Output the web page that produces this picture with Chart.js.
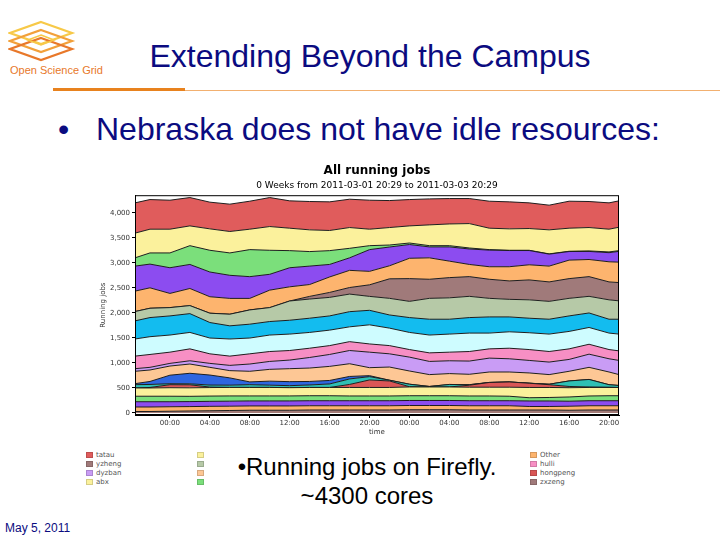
<!DOCTYPE html>
<html>
<head>
<meta charset="utf-8">
<script src="https://cdn.jsdelivr.net/npm/chart.js@4.4.1/dist/chart.umd.min.js"></script>
<style>
  html, body { margin: 0; padding: 0; background: #fff; }
  body { width: 720px; height: 540px; position: relative; overflow: hidden; font-family: "Liberation Sans", Arial, sans-serif; }
  .abs { position: absolute; white-space: nowrap; }
  #logoText { left: 10px; top: 64px; font-size: 11px; color: #e8782a; }
  #slideTitle { left: 0; width: 740px; text-align: center; top: 38px; font-size: 32px; color: #0b0b80; }
  #ruleThick { left: 53px; top: 88px; width: 132px; height: 3px; background: #e8821e; }
  #ruleThin { left: 185px; top: 90px; width: 535px; height: 1px; background: #f2b070; }
  #bulletDot { left: 58px; top: 111px; font-size: 32px; color: #0b0b80; }
  #bullet { left: 96px; top: 111px; font-size: 32px; color: #0b0b80; }
  #chartBox { left: 90px; top: 158px; width: 540px; height: 285px; }
  #note1 { left: 0; width: 734px; text-align: center; top: 453px; font-size: 24px; color: #000; }
  #note2 { left: 0; width: 734px; text-align: center; top: 482px; font-size: 24px; color: #000; }
  #footer { left: 5px; top: 521px; font-size: 12px; color: #0b0b80; }
  .lg { position: absolute; font-family: "DejaVu Sans", sans-serif; font-size: 7px; color: #555; height: 9px; line-height: 9px; white-space: nowrap; }
  .lg i { display: inline-block; width: 7px; height: 6px; margin-right: 3px; vertical-align: -1px; border: 1px solid rgba(0,0,0,0.15); box-sizing: border-box; }
</style>
</head>
<body>

<svg class="abs" style="left:8px;top:20px" width="70" height="44" viewBox="0 0 70 44">
  <polygon points="33,2 64,13 33,24 2,13" fill="none" stroke="#f7c948" stroke-width="2.2"/>
  <polygon points="33,10 64,21 33,32 2,21" fill="none" stroke="#f2a03a" stroke-width="2.2"/>
  <polygon points="33,18 64,29 33,40 2,29" fill="none" stroke="#e8782a" stroke-width="2.2"/>
  <polygon points="33,15 46,20 33,25 20,20" fill="none" stroke="#f7c948" stroke-width="1.6"/>
</svg>
<div id="logoText" class="abs">Open Science Grid</div>
<div id="slideTitle" class="abs">Extending Beyond the Campus</div>
<div id="ruleThick" class="abs"></div>
<div id="ruleThin" class="abs"></div>
<div id="bulletDot" class="abs">•</div>
<div id="bullet" class="abs">Nebraska does not have idle resources:</div>

<div id="chartBox" class="abs"><canvas id="jobsChart" width="540" height="285"></canvas></div>
<div id="legend"></div>

<div id="note1" class="abs">•Running jobs on Firefly.</div>
<div id="note2" class="abs">~4300 cores</div>
<div id="footer" class="abs">May 5, 2011</div>

<script>
// hours after 2011-03-02 00:00
const hours = [-3.5, -2, 0, 2, 4, 6, 8, 10, 12, 14, 16, 18, 20, 22, 24, 26, 28, 30, 32, 34, 36, 38, 40, 42, 44, 45];
const tickHours = [0, 4, 8, 12, 16, 20, 24, 28, 32, 36, 40, 44];
const tickLabels = ['00:00', '04:00', '08:00', '12:00', '16:00', '20:00', '00:00', '04:00', '08:00', '12:00', '16:00', '20:00'];
const yTicks = [0, 500, 1000, 1500, 2000, 2500, 3000, 3500, 4000];

// running jobs per user, bottom of the stack first
const baseBrown  = [30,30,35,40,45,50,55,55,55,60, 60,60,60,60,65,65,65,60,60,60, 60,60,55,60,60,60];
const baseOrange = [90,90,90,88,88,86,86,86,86,85, 85,85,85,85,85,85,85,85,85,85, 70,70,80,85,85,85];
const basePurple = [105,105,100,100,100,100,100,100,100,100, 100,100,100,100,100,100,100,100,100,100, 110,110,100,100,100,100];
const baseGreen  = [110,110,110,105,105,105,100,100,100,100, 100,95,95,95,95,95,95,95,95,90, 65,70,85,95,100,100];
const baseYellow = [165,165,170,170,170,170,170,170,165,165, 165,170,170,170,175,175,175,175,175,180, 205,200,185,170,165,165];
const smallRed   = [0,10,60,60,10,0,0,0,0,0, 0,60,150,130,5,0,0,40,95,105, 85,55,25,10,5,0];
const teal       = [66,60,20,20,40,45,55,45,40,50, 70,110,66,15,50,10,50,10,0,0, 0,10,110,150,50,40];
const blue       = [20,60,170,210,200,145,55,80,80,70, 70,50,20,0,0,0,0,0,0,0, 0,0,0,0,0,0];
const peach      = [247,229,183,185,154,145,212,236,259,268, 281,254,159,263,264,237,217,208,209,199, 205,192,193,242,254,217];
const lavender   = [52,53,53,65,79,105,145,158,172,211, 238,264,310,264,277,263,256,264,277,264, 250,250,237,263,264,283];
const pink       = [251,257,224,238,191,185,204,198,191,185, 177,177,164,164,151,171,172,191,185,211, 217,211,211,198,184,191];
const lightCyan  = [342,355,342,328,315,342,315,329,328,315, 309,296,382,349,342,356,361,368,315,328, 336,348,348,335,329,335];
const skyBlue    = [362,382,382,376,310,263,277,270,277,284, 284,303,290,263,297,316,297,310,323,297, 290,297,310,290,277,297];
const sage       = [186,186,166,160,186,232,285,278,384,383, 370,351,278,332,324,417,427,424,371,351, 367,357,351,332,387,367];
const rosyBrown  = [0,0,0,0,0,0,0,0,0,53, 99,131,231,390,454,381,404,394,381,368, 398,388,394,394,358,365];
const orange     = [408,408,283,342,329,316,230,349,283,237, 309,343,269,260,406,428,329,243,250,283, 302,316,369,342,402,408];
const violet     = [500,474,513,480,494,461,434,316,381,368, 250,250,434,375,275,218,284,309,332,324, 285,239,172,161,182,215];
const green      = [165,223,296,375,434,447,540,480,342,290, 276,190,79,40,30,25,25,20,10,5, 5,5,5,10,15,15];
const yellow     = [493,474,474,395,428,428,408,474,448,434, 402,415,329,349,342,415,434,487,428,428, 434,480,461,467,454,467];
const topRed     = [605,592,579,566,533,546,559,579,546,566, 572,566,579,539,526,519,507,500,539,539, 513,493,539,520,526,527];

const legendLabels = ['tatau', 'yzheng', 'dyzban', 'abx', '', '', '', '', 'Other', 'hulli', 'hongpeng', 'zxzeng'];

const layers = [
  { data: baseBrown,  color: '#a37c78' },
  { data: baseOrange, color: '#fdb46e' },
  { data: basePurple, color: '#8c4cf0' },
  { data: baseGreen,  color: '#7bdf7b' },
  { data: baseYellow, color: '#fbf19c' },
  { data: smallRed,   color: '#d95656' },
  { data: teal,       color: '#2fbfb4' },
  { data: blue,       color: '#2f66e0' },
  { data: peach,      color: '#fdc795' },
  { data: lavender,   color: '#c99cf5' },
  { data: pink,       color: '#f78fc4' },
  { data: lightCyan,  color: '#cefcff' },
  { data: skyBlue,    color: '#13bcef' },
  { data: sage,       color: '#b6c9a7' },
  { data: rosyBrown,  color: '#a07a7a' },
  { data: orange,     color: '#fdb46e' },
  { data: violet,     color: '#8c4cf0' },
  { data: green,      color: '#7bdf7b' },
  { data: yellow,     color: '#fbf19c' },
  { data: topRed,     color: '#e05c5c' }
];
const legendColors = ['#e05c5c', '#a07a7a', '#c99cf5', '#fbf19c', '#fbf19c', '#b6c9a7', '#fdc795', '#7bdf7b', '#fdb46e', '#f78fc4', '#d95656', '#a07a7a'];

// legend columns under the chart
const legendSlots = [[86, 455], [86, 464], [86, 473], [86, 482], [197, 455], [197, 464], [197, 473], [197, 482], [530, 455], [530, 464], [530, 473], [530, 482]];
const legendEl = document.getElementById('legend');
legendLabels.forEach((name, i) => {
  const d = document.createElement('div');
  d.className = 'lg';
  d.style.left = legendSlots[i][0] + 'px';
  d.style.top = (legendSlots[i][1] - 4) + 'px';
  d.innerHTML = `<i style="background:${legendColors[i]}"></i>${name}`;
  legendEl.appendChild(d);
});

const framePlugin = {
  id: 'frame',
  afterDatasetsDraw(chart) {
    const a = chart.chartArea, c = chart.ctx;
    c.save();
    c.strokeStyle = '#000';
    c.lineWidth = 1;
    c.strokeRect(a.left + 0.5, a.top + 0.5, a.right - a.left - 1, a.bottom - a.top - 1);
    c.restore();
  }
};

const tickFont = { family: 'DejaVu Sans', size: 7 };

new Chart(document.getElementById('jobsChart'), {
  type: 'line',
  data: {
    datasets: layers.map((l, i) => ({
      label: 'layer' + i,
      data: hours.map((h, j) => ({ x: h, y: l.data[j] })),
      backgroundColor: l.color,
      borderColor: '#1e1e1e',
      borderWidth: 1,
      pointRadius: 0,
      tension: 0,
      fill: i === 0 ? 'origin' : '-1'
    }))
  },
  options: {
    responsive: false,
    animation: false,
    layout: { padding: { left: 9, right: 11, top: 0, bottom: 7 } },
    plugins: {
      legend: { display: false },
      tooltip: { enabled: false },
      title: {
        display: true, fullSize: false, text: 'All running jobs', color: '#000',
        font: { family: 'DejaVu Sans', size: 12, weight: 'bold' }, padding: { top: 6, bottom: 0 }
      },
      subtitle: {
        display: true, fullSize: false, text: '0 Weeks from 2011-03-01 20:29 to 2011-03-03 20:29', color: '#000',
        font: { family: 'DejaVu Sans', size: 9 }, padding: { top: 2, bottom: 4 }
      }
    },
    scales: {
      x: {
        type: 'linear', min: -3.5, max: 45,
        afterBuildTicks: ax => { ax.ticks = tickHours.map(v => ({ value: v })); },
        afterFit: ax => { ax.height = 21; },
        ticks: {
          autoSkip: false, maxRotation: 0, padding: 1, color: '#333', font: tickFont,
          callback: v => tickLabels[tickHours.indexOf(v)]
        },
        grid: { drawOnChartArea: false, tickLength: 3, color: '#000' },
        border: { color: '#000' },
        title: { display: true, text: 'time', color: '#333', font: { family: 'DejaVu Sans', size: 7 }, padding: { top: 1, bottom: 0 } }
      },
      y: {
        stacked: true, min: -40, max: 4350,
        afterBuildTicks: ax => { ax.ticks = yTicks.map(v => ({ value: v })); },
        afterFit: ax => { ax.width = 36; },
        ticks: { padding: 2, color: '#333', font: tickFont },
        grid: { drawOnChartArea: false, tickLength: 3, color: '#000' },
        border: { color: '#000' },
        title: { display: true, text: 'Running jobs', color: '#333', font: { family: 'DejaVu Sans', size: 7 }, padding: { top: 0, bottom: 2 } }
      }
    }
  },
  plugins: [framePlugin]
});
</script>
</body>
</html>
